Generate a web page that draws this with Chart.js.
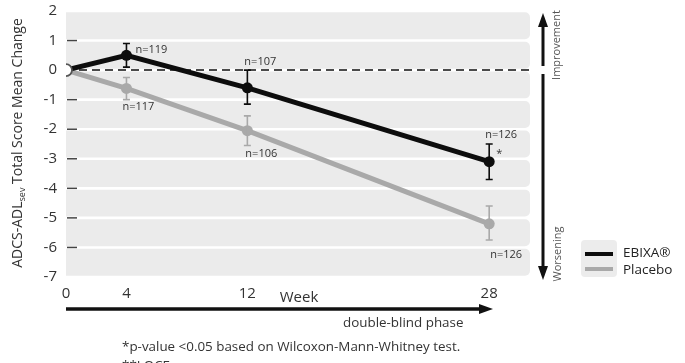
<!DOCTYPE html>
<html>
<head>
<meta charset="utf-8">
<script src="https://cdn.jsdelivr.net/npm/chart.js@4.4.1/dist/chart.umd.min.js"></script>
<style>
html,body{margin:0;padding:0;background:#fff;}
#wrap{width:685px;height:363px;position:relative;}
</style>
</head>
<body>
<div id="wrap"><canvas id="c" width="685" height="363"></canvas></div>
<script>
// ---- data ----
const weeks = [0, 4, 12, 28];
const xTickLabels = [0, 4, 12, 28];
const yTickValues = [2, 1, 0, -1, -2, -3, -4, -5, -6, -7];
const ebixaMean = [0, 0.5, -0.6, -3.1];
const ebixaLow  = [null, 0.1, -1.15, -3.7];
const ebixaHigh = [null, 0.9, 0.0, -2.5];
const placeboMean = [0, -0.62, -2.05, -5.2];
const placeboLow  = [null, -1.0, -2.55, -5.75];
const placeboHigh = [null, -0.25, -1.55, -4.6];
const ebixaN   = [null, 119, 107, 126];
const placeboN = [null, 117, 106, 126];
const seriesNames = ['EBIXA®', 'Placebo'];

const FONT = '"Open Sans", "Noto Sans", sans-serif';
const BLACK = '#0d0d0d';
const GRAY = '#a9a9a9';

const ebixaPts = weeks.map((w, i) => ({x: w, y: ebixaMean[i]}));
const placeboPts = weeks.map((w, i) => ({x: w, y: placeboMean[i]}));

// label offsets (styling, relative to data points)
const ebixaLabelOff = [null, [9, -5], [-3, -26], [-4, -27]];
const placeboLabelOff = [null, [-4, 18], [-2, 23], [1, 31]];

function arrowHead(ctx, x, y, dir, len, half) {
  ctx.beginPath();
  if (dir === 'up') { ctx.moveTo(x, y); ctx.lineTo(x - half, y + len); ctx.lineTo(x + half, y + len); }
  else if (dir === 'down') { ctx.moveTo(x, y); ctx.lineTo(x - half, y - len); ctx.lineTo(x + half, y - len); }
  else { ctx.moveTo(x, y); ctx.lineTo(x - len, y - half); ctx.lineTo(x - len, y + half); }
  ctx.closePath(); ctx.fill();
}

const deco = {
  id: 'deco',
  beforeDatasetsDraw(chart) {
    const {ctx, chartArea: a, scales: {x, y}} = chart;
    ctx.save();
    // bands
    ctx.fillStyle = '#ebebeb';
    for (let i = 0; i < yTickValues.length - 1; i++) {
      const t = y.getPixelForValue(yTickValues[i]) + 1.3;
      const b = y.getPixelForValue(yTickValues[i + 1]) - 1.3;
      ctx.beginPath();
      ctx.roundRect(a.left, t, a.right - a.left, b - t, [0, 5, 5, 0]);
      ctx.fill();
    }
    // tick dashes
    ctx.strokeStyle = '#444'; ctx.lineWidth = 1.5;
    yTickValues.forEach(v => {
      if (v === 2 || v === 0 || v === -7) return;
      const py = y.getPixelForValue(v);
      ctx.beginPath(); ctx.moveTo(a.left + 1, py); ctx.lineTo(a.left + 11, py); ctx.stroke();
    });
    // zero dashed line
    const zy = y.getPixelForValue(0);
    ctx.strokeStyle = '#4a4a4a'; ctx.lineWidth = 2; ctx.setLineDash([8, 5]);
    ctx.beginPath(); ctx.moveTo(a.left, zy); ctx.lineTo(a.right, zy); ctx.stroke();
    ctx.setLineDash([]);
    ctx.restore();
  },
  afterDatasetsDraw(chart) {
    const {ctx, chartArea: a, scales: {x, y}} = chart;
    ctx.save();
    // error bars
    const drawErr = (low, high, color) => {
      ctx.strokeStyle = color; ctx.lineWidth = 1.6;
      weeks.forEach((w, i) => {
        if (low[i] == null) return;
        const px = x.getPixelForValue(w);
        const y1 = y.getPixelForValue(high[i]), y2 = y.getPixelForValue(low[i]);
        ctx.beginPath();
        ctx.moveTo(px, y1); ctx.lineTo(px, y2);
        ctx.moveTo(px - 3.5, y1); ctx.lineTo(px + 3.5, y1);
        ctx.moveTo(px - 3.5, y2); ctx.lineTo(px + 3.5, y2);
        ctx.stroke();
      });
    };
    drawErr(placeboLow, placeboHigh, GRAY);
    drawErr(ebixaLow, ebixaHigh, BLACK);
    // n labels
    ctx.font = '11px ' + FONT; ctx.fillStyle = '#333'; ctx.textBaseline = 'middle'; ctx.textAlign = 'left';
    weeks.forEach((w, i) => {
      if (ebixaN[i] != null) {
        const px = x.getPixelForValue(w), py = y.getPixelForValue(ebixaMean[i]);
        ctx.fillText('n=' + ebixaN[i], px + ebixaLabelOff[i][0], py + ebixaLabelOff[i][1]);
      }
      if (placeboN[i] != null) {
        const px = x.getPixelForValue(w), py = y.getPixelForValue(placeboMean[i]);
        ctx.fillText('n=' + placeboN[i], px + placeboLabelOff[i][0], py + placeboLabelOff[i][1]);
      }
    });
    // significance star
    const sx = x.getPixelForValue(weeks[3]), sy = y.getPixelForValue(ebixaMean[3]);
    ctx.font = '11px ' + FONT;
    ctx.fillText('*', sx + 7, sy - 8);

    // y-axis title with subscript
    ctx.save();
    ctx.translate(18, 143);
    ctx.rotate(-Math.PI / 2);
    ctx.fillStyle = '#333'; ctx.textBaseline = 'middle'; ctx.textAlign = 'left';
    const p1 = 'ADCS-ADL', sub = 'sev', p2 = ' Total Score Mean Change';
    ctx.font = '14px ' + FONT; const w1 = ctx.measureText(p1).width, w3 = ctx.measureText(p2).width;
    ctx.font = '9px ' + FONT; const w2 = ctx.measureText(sub).width;
    let sx0 = -(w1 + w2 + w3) / 2;
    ctx.font = '14px ' + FONT; ctx.fillText(p1, sx0, 0);
    ctx.font = '9px ' + FONT; ctx.fillText(sub, sx0 + w1, 4);
    ctx.font = '14px ' + FONT; ctx.fillText(p2, sx0 + w1 + w2, 0);
    ctx.restore();

    // vertical improvement/worsening arrow
    ctx.fillStyle = '#111'; ctx.strokeStyle = '#111';
    const vx = 543;
    ctx.lineWidth = 3;
    ctx.beginPath(); ctx.moveTo(vx, 24); ctx.lineTo(vx, 66); ctx.stroke();
    ctx.beginPath(); ctx.moveTo(vx, 74); ctx.lineTo(vx, 268); ctx.stroke();
    arrowHead(ctx, vx, 13, 'up', 14, 5);
    arrowHead(ctx, vx, 280, 'down', 14, 5);
    ctx.fillStyle = '#555'; ctx.font = '11px ' + FONT; ctx.textAlign = 'center'; ctx.textBaseline = 'middle';
    ctx.save(); ctx.translate(557, 45); ctx.rotate(-Math.PI / 2); ctx.fillText('Improvement', 0, 0); ctx.restore();
    ctx.save(); ctx.translate(558, 254); ctx.rotate(-Math.PI / 2); ctx.fillText('Worsening', 0, 0); ctx.restore();

    // horizontal phase arrow
    ctx.fillStyle = '#111'; ctx.strokeStyle = '#111'; ctx.lineWidth = 3.5;
    ctx.beginPath(); ctx.moveTo(a.left, 309); ctx.lineTo(480, 309); ctx.stroke();
    arrowHead(ctx, 493, 309, 'right', 14, 5);

    // texts
    ctx.fillStyle = '#333'; ctx.textAlign = 'center'; ctx.textBaseline = 'middle';
    ctx.font = '15px ' + FONT; ctx.fillText('Week', 299, 298);
    ctx.textAlign = 'left'; ctx.font = '13.4px ' + FONT;
    ctx.fillText('double-blind phase', 343, 323);
    ctx.fillText('*p-value <0.05 based on Wilcoxon-Mann-Whitney test.', 122, 347);
    ctx.fillText('**LOCF', 122, 366);

    // legend
    ctx.fillStyle = '#ececec';
    ctx.beginPath(); ctx.roundRect(581, 240, 36, 37, 4); ctx.fill();
    ctx.lineWidth = 4;
    ctx.strokeStyle = BLACK; ctx.beginPath(); ctx.moveTo(585, 254); ctx.lineTo(613, 254); ctx.stroke();
    ctx.strokeStyle = GRAY; ctx.beginPath(); ctx.moveTo(585, 269); ctx.lineTo(613, 269); ctx.stroke();
    ctx.fillStyle = '#222'; ctx.font = '13.5px ' + FONT; ctx.textAlign = 'left';
    ctx.fillText(seriesNames[0], 623, 253);
    ctx.fillText(seriesNames[1], 623, 270);
    ctx.restore();
  }
};

new Chart(document.getElementById('c'), {
  type: 'line',
  data: {
    datasets: [
      {
        label: seriesNames[1], data: placeboPts, borderColor: GRAY, borderWidth: 5,
        pointRadius: ctx => ctx.dataIndex === 0 ? 0 : 5.5,
        pointBackgroundColor: GRAY, pointBorderColor: GRAY, pointBorderWidth: 0, order: 2
      },
      {
        label: seriesNames[0], data: ebixaPts, borderColor: BLACK, borderWidth: 5,
        pointRadius: ctx => ctx.dataIndex === 0 ? 6 : 5.5,
        pointBackgroundColor: ctx => ctx.dataIndex === 0 ? '#fff' : BLACK,
        pointBorderColor: ctx => ctx.dataIndex === 0 ? '#555' : BLACK,
        pointBorderWidth: ctx => ctx.dataIndex === 0 ? 1.8 : 0, order: 1
      }
    ]
  },
  options: {
    responsive: false, animation: false,
    layout: {padding: {left: 0, right: 155, top: 11, bottom: 0}},
    plugins: {legend: {display: false}, tooltip: {enabled: false}},
    scales: {
      x: {
        type: 'linear', min: 0, max: 30.7,
        afterBuildTicks: s => { s.ticks = xTickLabels.map(v => ({value: v})); },
        afterFit: s => { s.height = 86; s.paddingLeft = 0; s.paddingRight = 0; },
        grid: {display: false, drawTicks: false}, border: {display: false},
        ticks: {padding: 8, color: '#333', font: {size: 15, family: FONT}, maxRotation: 0, autoSkip: false}
      },
      y: {
        min: -7, max: 2,
        afterBuildTicks: s => { s.ticks = yTickValues.map(v => ({value: v})); },
        afterFit: s => { s.width = 66; s.paddingTop = 0; s.paddingBottom = 0; },
        grid: {display: false, drawTicks: false}, border: {display: false},
        ticks: {padding: 9, color: '#333', font: {size: 15, family: FONT}, autoSkip: false,
          callback: v => String(v).replace('−', '-')}
      }
    }
  },
  plugins: [deco]
});
</script>
</body>
</html>
